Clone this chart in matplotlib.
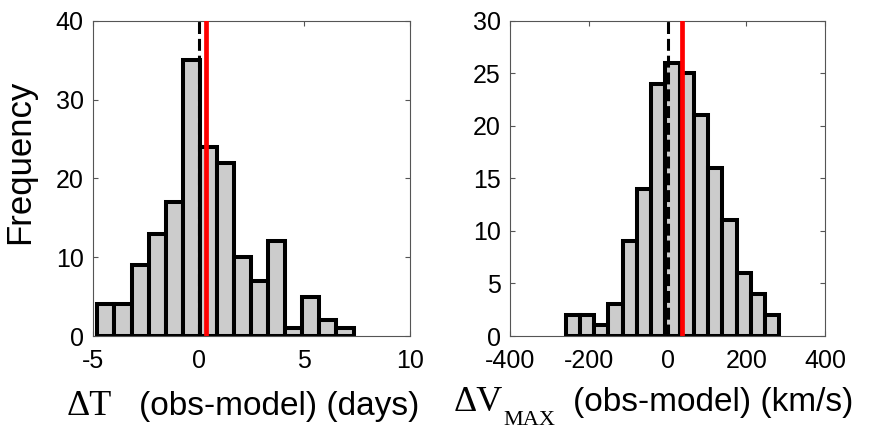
import numpy as np
import matplotlib
matplotlib.use('Agg')
import matplotlib.pyplot as plt

plt.rcParams['font.family'] = ['Liberation Sans', 'DejaVu Sans']
plt.rcParams['axes.unicode_minus'] = False
serif = ['Liberation Serif', 'DejaVu Serif']

# histogram of Delta T (days)
dt_edges = [-4.81, -4.00, -3.19, -2.38, -1.57, -0.76, 0.05, 0.85, 1.66,
            2.47, 3.28, 4.09, 4.90, 5.71, 6.52, 7.33]
dt_counts = [4, 4, 9, 13, 17, 35, 24, 22, 10, 7, 12, 1, 5, 2, 1]
dt_mean = 0.35

# histogram of Delta V_MAX (km/s)
dv_edges = [-259.2, -223.0, -186.8, -150.6, -114.4, -78.2, -42.0, -5.8, 30.4,
            66.6, 102.8, 139.0, 175.2, 211.4, 247.6, 283.8]
dv_counts = [2, 2, 1, 3, 9, 14, 24, 26, 25, 21, 16, 11, 6, 4, 2]
dv_mean = 36

panels = [
    dict(edges=dt_edges, counts=dt_counts, mean=dt_mean,
         xlim=(-5, 10), xticks=[-5, 0, 5, 10],
         ylim=(0, 40), yticks=[0, 10, 20, 30, 40]),
    dict(edges=dv_edges, counts=dv_counts, mean=dv_mean,
         xlim=(-400, 400), xticks=[-400, -200, 0, 200, 400],
         ylim=(0, 30), yticks=[0, 5, 10, 15, 20, 25, 30]),
]

W, H = 882, 430
fig = plt.figure(figsize=(W / 100, H / 100), dpi=100)
rects = [[0.1058, 0.2186, 0.359, 0.733], [0.5786, 0.2186, 0.3568, 0.733]]
framecol = '#555555'

for p, r in zip(panels, rects):
    ax = fig.add_axes(r)
    edges = np.array(p['edges'])
    ax.bar(edges[:-1], p['counts'], width=np.diff(edges), align='edge',
           color='#cccccc', edgecolor='black', linewidth=2.9, zorder=2)
    ax.axvline(0, color='black', linewidth=2.2, linestyle=(0, (3.9, 1.6)), zorder=3)
    ax.axvline(p['mean'], color='red', linewidth=3.4, zorder=4)
    ax.set_xlim(*p['xlim'])
    ax.set_ylim(*p['ylim'])
    ax.set_xticks(p['xticks'])
    ax.set_yticks(p['yticks'])
    ax.tick_params(direction='in', top=True, right=True, length=3.6,
                   width=0.8, color=framecol, labelsize=18)
    ax.tick_params(axis='x', pad=9)
    ax.tick_params(axis='y', pad=7)
    for s in ax.spines.values():
        s.set_color(framecol)
        s.set_linewidth(0.8)

fig.text(20 / W, 1 - 162 / H, 'Frequency', rotation=90, fontsize=25,
         ha='center', va='center')

# x labels: serif symbol part + sans text part, like the original
fig.text(67 / W, 1 - 415 / H, '\u0394T', family=serif, fontsize=26,
         ha='left', va='baseline')
fig.text(139 / W, 1 - 415 / H, '(obs-model) (days)', fontsize=24,
         ha='left', va='baseline')
fig.text(454 / W, 1 - 411 / H, '\u0394V', family=serif, fontsize=26,
         ha='left', va='baseline')
fig.text(503 / W, 1 - 425 / H, 'MAX', family=serif, fontsize=16,
         ha='left', va='baseline')
fig.text(573 / W, 1 - 411 / H, '(obs-model) (km/s)', fontsize=24,
         ha='left', va='baseline')

plt.savefig('out.png', dpi=100)
